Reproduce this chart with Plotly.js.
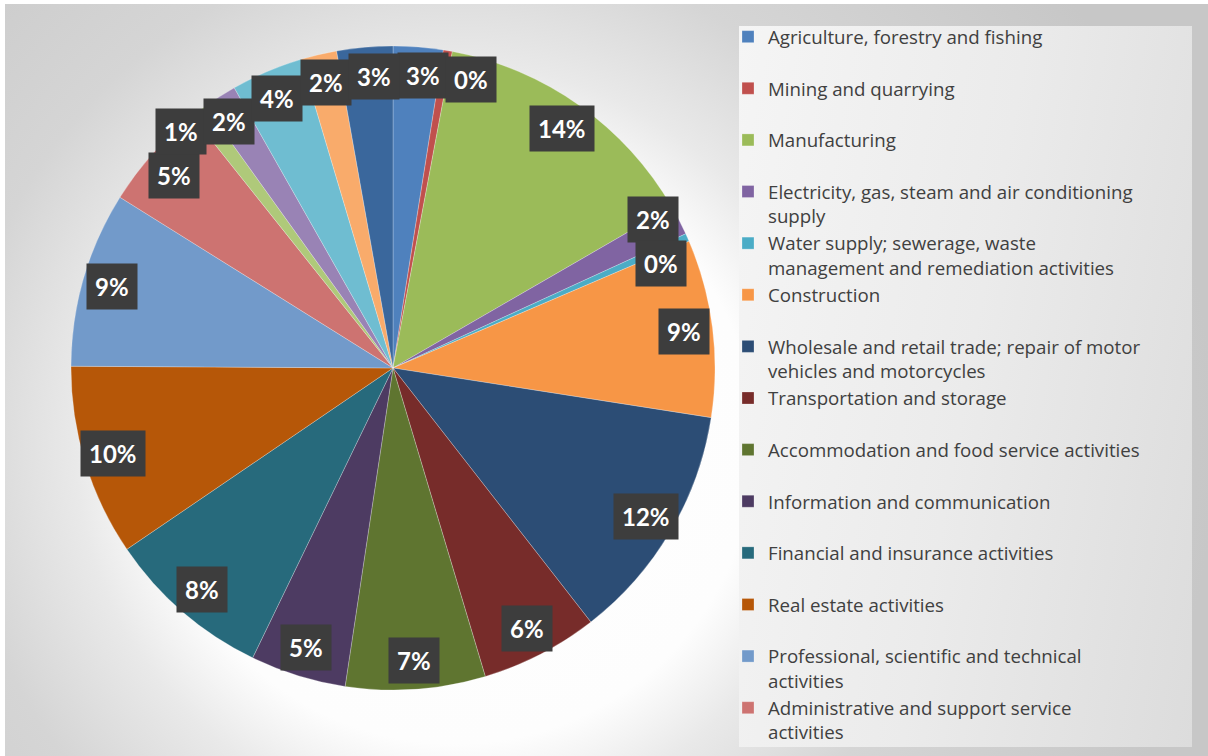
<!DOCTYPE html>
<html><head><meta charset="utf-8">
<script src="https://cdn.plot.ly/plotly-3.0.1.min.js"></script>
<style>
html,body{margin:0;padding:0;background:#ffffff;}
#wrap{position:relative;width:1208px;height:756px;overflow:hidden;}
#frame{position:absolute;left:5px;top:4px;width:1203px;height:752px;
  background:radial-gradient(circle at 450px 440px,#ffffff 0px,#fdfdfd 300px,#e9e9e9 380px,#d5d5d5 500px,#c7c7c7 760px);}
#panel{position:absolute;left:739px;top:26px;width:453px;height:721px;
  background:linear-gradient(100deg,#f5f5f5 0%,#ebebeb 50%,#dcdcdc 100%);}
#chart{position:absolute;left:0;top:0;width:1208px;height:756px;}
.legend .scrollbar{display:none;}
</style></head>
<body><div id="wrap"><div id="frame"></div><div id="panel"></div><div id="chart"></div></div>
<script>
// ---- data ----
const categories = [
  "Agriculture, forestry and fishing",
  "Mining and quarrying",
  "Manufacturing",
  "Electricity, gas, steam and air conditioning supply",
  "Water supply; sewerage, waste management and remediation activities",
  "Construction",
  "Wholesale and retail trade; repair of motor vehicles and motorcycles",
  "Transportation and storage",
  "Accommodation and food service activities",
  "Information and communication",
  "Financial and insurance activities",
  "Real estate activities",
  "Professional, scientific and technical activities",
  "Administrative and support service activities",
  "Public administration and defence; compulsory social security",
  "Education",
  "Human health and social work activities",
  "Arts, entertainment and recreation",
  "Other service activities"
];
const legendLabels = [
  "Agriculture, forestry and fishing",
  "Mining and quarrying",
  "Manufacturing",
  "Electricity, gas, steam and air conditioning<br>supply",
  "Water supply; sewerage, waste<br>management and remediation activities",
  "Construction",
  "Wholesale and retail trade; repair of motor<br>vehicles and motorcycles",
  "Transportation and storage",
  "Accommodation and food service activities",
  "Information and communication",
  "Financial and insurance activities",
  "Real estate activities",
  "Professional, scientific and technical<br>activities",
  "Administrative and support service<br>activities",
  "Public administration and defence;<br>compulsory social security",
  "Education",
  "Human health and social work activities",
  "Arts, entertainment and recreation",
  "Other service activities"
];
const shares = [2.5, 0.45, 13.7, 1.5, 0.4, 8.9, 12.0, 5.9, 7.0, 4.8, 8.3, 9.6, 8.8, 5.4, 0.8, 1.7, 3.6, 1.8, 2.8];
const colors = ["#4F81BD","#C0504D","#9BBB59","#8064A2","#4BACC6","#F79646",
                "#2C4D75","#772C2A","#5F7530","#4D3B62","#276A7C","#B65708",
                "#729ACA","#CD7371","#AFC97A","#9983B5","#6FBDD1","#F9AB6B","#3A679C"];

// ---- layout geometry ----
const W = 1208, H = 756;
const CX = 393, CY = 368, R = 322;

const legendText = legendLabels.map(t => t.indexOf("<br>") >= 0 ? t : t + "<br>&nbsp;");

const trace = {
  type: "pie",
  labels: legendText,
  values: shares,
  sort: false,
  direction: "clockwise",
  rotation: 0,
  textinfo: "none",
  hoverinfo: "label+percent",
  marker: { colors: colors, line: { color: "rgba(255,255,255,0.35)", width: 0.7 } },
  domain: { x: [(CX - R) / W, (CX + R) / W], y: [1 - (CY + R) / H, 1 - (CY - R) / H] }
};

// ---- percent labels (positions derived from data) ----
const total = shares.reduce((a, b) => a + b, 0);
let cum = 0;
const labs = shares.map(v => {
  const mid = (cum + v / 2) / total; cum += v;
  const th = mid * 2 * Math.PI;
  const r = 0.91 * R;
  const txt = Math.round(v / total * 100) + "%";
  return { x: CX + r * Math.sin(th), y: CY - r * Math.cos(th), w: 14 * txt.length + 20, h: 43, txt };
});
for (let it = 0; it < 500; it++) {
  let moved = false;
  for (let i = 0; i < labs.length; i++) for (let j = i + 1; j < labs.length; j++) {
    const a = labs[i], b = labs[j];
    const dx = b.x - a.x, dy = b.y - a.y;
    const ox = (a.w + b.w) / 2 - Math.abs(dx), oy = (a.h + b.h) / 2 - Math.abs(dy);
    if (ox > 0 && oy > 0) {
      moved = true;
      if (ox < oy) { const s = (ox / 2 + 0.5) * (dx >= 0 ? 1 : -1); a.x -= s; b.x += s; }
      else { const s = (oy / 2 + 0.5) * (dy >= 0 ? 1 : -1); a.y -= s; b.y += s; }
    }
  }
  if (!moved) break;
}
const annotations = labs.map(l => ({
  xref: "paper", yref: "paper", x: l.x / W, y: 1 - l.y / H,
  xanchor: "center", yanchor: "middle", showarrow: false,
  text: "<b>" + l.txt + "</b>",
  font: { family: "Lato, 'Open Sans', sans-serif", size: 24, color: "#ffffff" },
  bgcolor: "#3d3d3d", borderpad: 8
}));

const layout = {
  width: W, height: H,
  margin: { l: 0, r: 0, t: 0, b: 0, autoexpand: false },
  paper_bgcolor: "rgba(0,0,0,0)",
  plot_bgcolor: "rgba(0,0,0,0)",
  showlegend: true,
  legend: {
    x: 728 / W, xanchor: "left", y: 1 - 18 / H, yanchor: "top",
    valign: "top", bgcolor: "rgba(0,0,0,0)", borderwidth: 0,
    maxheight: 729,
    font: { family: "'Open Sans', sans-serif", size: 18.7, color: "#404040" },
    traceorder: "normal"
  },
  annotations: annotations
};

Plotly.newPlot("chart", [trace], layout, { displayModeBar: false, staticPlot: true });
</script>
</body></html>
